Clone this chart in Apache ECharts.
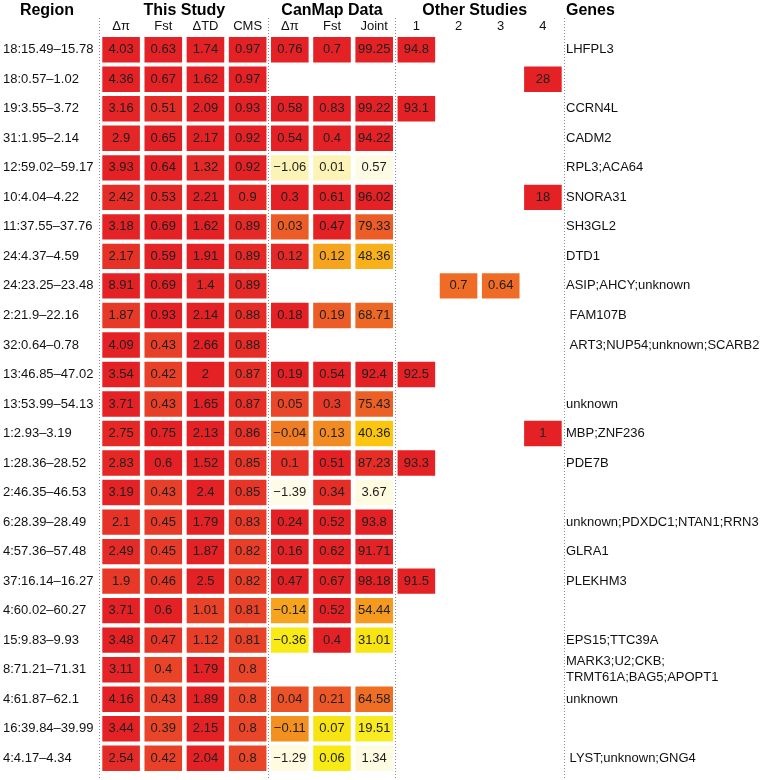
<!DOCTYPE html>
<html><head><meta charset="utf-8">
<script src="https://cdn.jsdelivr.net/npm/echarts@6/dist/echarts.min.js"></script>
<style>html,body{margin:0;padding:0;background:#fff}#c{width:770px;height:780px}</style>
</head><body><div id="c"></div><script>
// ---------- data ----------
const regions = ['18:15.49–15.78','18:0.57–1.02','19:3.55–3.72','31:1.95–2.14','12:59.02–59.17','10:4.04–4.22','11:37.55–37.76','24:4.37–4.59','24:23.25–23.48','2:21.9–22.16','32:0.64–0.78','13:46.85–47.02','13:53.99–54.13','1:2.93–3.19','1:28.36–28.52','2:46.35–46.53','6:28.39–28.49','4:57.36–57.48','37:16.14–16.27','4:60.02–60.27','15:9.83–9.93','8:71.21–71.31','4:61.87–62.1','16:39.84–39.99','4:4.17–4.34'];
const genes = ['LHFPL3','','CCRN4L','CADM2','RPL3;ACA64','SNORA31','SH3GL2','DTD1','ASIP;AHCY;unknown',' FAM107B',' ART3;NUP54;unknown;SCARB2','','unknown','MBP;ZNF236','PDE7B','','unknown;PDXDC1;NTAN1;RRN3','GLRA1','PLEKHM3','','EPS15;TTC39A','MARK3;U2;CKB;\nTRMT61A;BAG5;APOPT1','unknown','',' LYST;unknown;GNG4'];
const colLabels = ['Δπ','Fst','ΔTD','CMS','Δπ','Fst','Joint','1','2','3','4'];
const groupTitles = ['This Study','CanMap Data','Other Studies'];
const groupSpans = [[0,3],[4,6],[7,10]];

const thisDpi = [4.03,4.36,3.16,2.9,3.93,2.42,3.18,2.17,8.91,1.87,4.09,3.54,3.71,2.75,2.83,3.19,2.1,2.49,1.9,3.71,3.48,3.11,4.16,3.44,2.54];
const thisFst = [0.63,0.67,0.51,0.65,0.64,0.53,0.69,0.59,0.69,0.93,0.43,0.42,0.43,0.75,0.6,0.43,0.45,0.45,0.46,0.6,0.47,0.4,0.43,0.39,0.42];
const thisDtd = [1.74,1.62,2.09,2.17,1.32,2.21,1.62,1.91,1.4,2.14,2.66,2,1.65,2.13,1.52,2.4,1.79,1.87,2.5,1.01,1.12,1.79,1.89,2.15,2.04];
const thisCms = [0.97,0.97,0.93,0.92,0.92,0.9,0.89,0.89,0.89,0.88,0.88,0.87,0.87,0.86,0.85,0.85,0.83,0.82,0.82,0.81,0.81,0.8,0.8,0.8,0.8];
const canDpi = [0.76,null,0.58,0.54,-1.06,0.3,0.03,0.12,null,0.18,null,0.19,0.05,-0.04,0.1,-1.39,0.24,0.16,0.47,-0.14,-0.36,null,0.04,-0.11,-1.29];
const canFst = [0.7,null,0.83,0.4,0.01,0.61,0.47,0.12,null,0.19,null,0.54,0.3,0.13,0.51,0.34,0.52,0.62,0.67,0.52,0.4,null,0.21,0.07,0.06];
const canJoint = [99.25,null,99.22,94.22,0.57,96.02,79.33,48.36,null,68.71,null,92.4,75.43,40.36,87.23,3.67,93.8,91.71,98.18,54.44,31.01,null,64.58,19.51,1.34];
const other1 = [94.8,null,93.1,null,null,null,null,null,null,null,null,92.5,null,null,93.3,null,null,null,91.5,null,null,null,null,null,null];
const other2 = [null,null,null,null,null,null,null,null,0.7,null,null,null,null,null,null,null,null,null,null,null,null,null,null,null,null];
const other3 = [null,null,null,null,null,null,null,null,0.64,null,null,null,null,null,null,null,null,null,null,null,null,null,null,null,null];
const other4 = [null,28,null,null,null,18,null,null,null,null,null,null,null,1,null,null,null,null,null,null,null,null,null,null,null];

// ---------- style ----------
const columns = [thisDpi,thisFst,thisDtd,thisCms,canDpi,canFst,canJoint,other1,other2,other3,other4];
const ramp = ['#FEFCE8','#FBF4B4','#F8EA14','#FCC70F','#F6A31E','#F07D23','#EC5C26','#E83F28','#E42226'];
// per-column colour knots: [value, position on ramp 0..1]
const colorKnots = [
  [[1.87,0.9],[2.1,0.93],[2.5,0.96],[3.0,0.99],[3.5,1]],
  [[0.39,0.85],[0.43,0.87],[0.47,0.92],[0.53,0.97],[0.6,1]],
  [[1.0,0.86],[1.12,0.88],[1.32,0.97],[1.5,1]],
  [[0.8,0.85],[0.85,0.92],[0.89,0.97],[0.92,1]],
  [[-1.39,0],[-1.29,0.02],[-1.06,0.12],[-0.36,0.25],[-0.14,0.5],[-0.11,0.56],[-0.04,0.625],[0.03,0.75],[0.05,0.84],[0.12,0.97],[0.18,1]],
  [[0.01,0.12],[0.06,0.25],[0.07,0.27],[0.12,0.5],[0.13,0.58],[0.19,0.75],[0.21,0.77],[0.3,0.9],[0.34,0.95],[0.4,1]],
  [[0.57,0.01],[3.67,0.02],[19.51,0.24],[31.01,0.27],[40.36,0.38],[48.36,0.45],[54.44,0.53],[64.58,0.68],[68.71,0.71],[79.33,0.75],[87.23,0.95],[92,1]],
  [[0,1],[100,1]],
  [[0,0.69],[1,0.69]],
  [[0,0.69],[1,0.69]],
  [[0,1],[100,1]]
];
function knotT(knots, v){
  if (v <= knots[0][0]) return knots[0][1];
  for (let i=1;i<knots.length;i++){
    if (v <= knots[i][0]){
      const a=knots[i-1], b=knots[i];
      return a[1] + (b[1]-a[1])*(v-a[0])/(b[0]-a[0]);
    }
  }
  return knots[knots.length-1][1];
}
const cells = [];
columns.forEach((col,c)=>col.forEach((v,r)=>{ if(v!==null) cells.push([c,r,v,knotT(colorKnots[c],v)]); }));

const FONT = '"Liberation Sans", Arial, Helvetica, sans-serif';
const fmt = v => String(v).replace('-', '\u2212');

const option = {
  animation:false,
  backgroundColor:'#fff',
  grid:{left:100, top:35, width:464, height:738},
  xAxis:{type:'category', position:'top', data:colLabels.map((_,i)=>'c'+i),
    axisLine:{show:false}, axisTick:{show:false}, splitLine:{show:false},
    axisLabel:{interval:0, margin:2, fontSize:13, color:'#111', fontFamily:FONT, formatter:(v,i)=>colLabels[i]}},
  yAxis:[
    {type:'category', inverse:true, data:regions,
      axisLine:{show:false}, axisTick:{show:false}, splitLine:{show:false},
      axisLabel:{interval:0, align:'left', margin:97, fontSize:13, color:'#111', fontFamily:FONT}},
    {type:'category', inverse:true, position:'right', data:regions,
      axisLine:{show:false}, axisTick:{show:false}, splitLine:{show:false},
      axisLabel:{interval:0, align:'left', margin:2, fontSize:13, lineHeight:16, color:'#111', fontFamily:FONT, formatter:(v,i)=>genes[i]}}
  ],
  visualMap:{type:'continuous', show:false, dimension:3, min:0, max:1, seriesIndex:0, inRange:{color:ramp}},
  series:[{
    type:'scatter', data:cells, symbol:'rect', symbolSize:[37.6,25.4], silent:true,
    itemStyle:{opacity:1},
    label:{show:true, position:'inside', formatter:p=>fmt(p.value[2]), fontSize:13, color:'#1e1e1e', fontFamily:FONT},
    emphasis:{disabled:true}
  }]
};
const chart = echarts.init(document.getElementById('c'));
chart.setOption(option);

const px = i => chart.convertToPixel({xAxisIndex:0}, i);
const colW = px(1) - px(0);
const graphics = [];
[0,4,7,11].forEach(i=>{
  const x = Math.round(px(0) + (i-0.5)*colW - (i===0?1.5:0.5)) + 0.5;
  graphics.push({type:'line', z:100, silent:true, shape:{x1:x,y1:18,x2:x,y2:780},
    style:{stroke:'#8c8c8c', lineWidth:1, lineDash:[1,2]}});
});
const headStyle = {font:'bold 16px '+FONT, fill:'#000', textAlign:'center', textVerticalAlign:'middle'};
graphics.push({type:'text', x:47, y:11, style:Object.assign({text:'Region'}, headStyle)});
groupTitles.forEach((t,g)=>{
  const cx = (px(groupSpans[g][0]) + px(groupSpans[g][1]))/2 - (g===2?5:0);
  graphics.push({type:'text', x:cx, y:11, style:Object.assign({text:t}, headStyle)});
});
graphics.push({type:'text', x:px(10)+colW/2+2, y:11, style:Object.assign({text:'Genes'}, headStyle, {textAlign:'left'})});
chart.setOption({graphic:graphics});
</script></body></html>
